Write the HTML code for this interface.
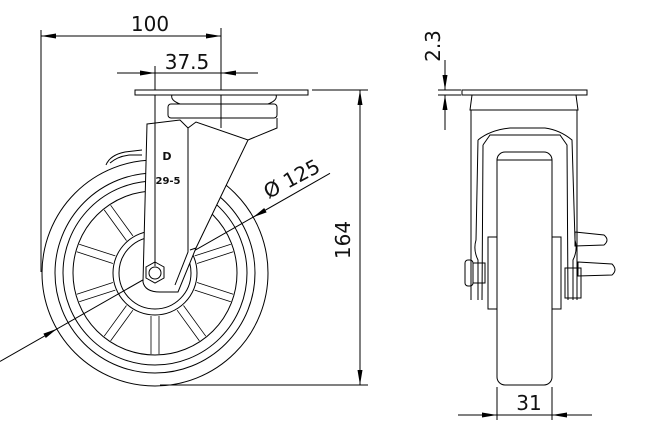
<!DOCTYPE html>
<html><head><style>
html,body{margin:0;padding:0;background:#fff;}
svg{display:block;}
text{font-family:"DejaVu Sans","Liberation Sans",sans-serif;fill:#111;}
</style></head><body>
<svg width="647" height="444" viewBox="0 0 647 444" xmlns="http://www.w3.org/2000/svg">
<g stroke="#000" fill="none" stroke-width="1">
<!-- 100 dim -->
<line x1="41" y1="30" x2="41" y2="272"/>
<line x1="221" y1="28" x2="221" y2="128"/>
<line x1="41" y1="36" x2="221" y2="36"/>
<!-- 37.5 -->
<line x1="155" y1="66" x2="155" y2="272"/>
<line x1="117" y1="73" x2="258" y2="73"/>
<!-- 164 -->
<line x1="312" y1="90" x2="368" y2="90"/>
<line x1="160" y1="385" x2="368" y2="385"/>
<line x1="360" y1="90" x2="360" y2="385"/>
<!-- diameter leader -->
<line x1="0" y1="361.4" x2="330" y2="173.3"/>
<!-- left wheel -->
<circle cx="155" cy="273" r="113"/>
<circle cx="155" cy="273" r="100"/>
<circle cx="155" cy="273" r="92"/>
<circle cx="155" cy="273" r="82"/>
<circle cx="155" cy="273" r="42"/>
<circle cx="155" cy="273" r="36"/>
<g stroke-width="0.8">
<path d="M194.7,290.1L230.8,301.8M197.1,282.5L233.2,294.2
M177.1,310.2L199.4,340.9M183.5,305.5L205.8,336.2
M151,316L151,354M159,316L159,354
M126.5,305.5L104.2,336.2M132.9,310.2L110.6,340.9
M112.9,282.5L76.8,294.2M115.3,290.1L79.2,301.8
M115.3,255.9L79.2,244.2M112.9,263.5L76.8,251.8
M132.9,235.9L110.6,205.2M126.5,240.6L104.2,209.9
M183.5,240.6L205.8,209.9M177.1,235.9L199.4,205.2
M197.1,263.5L233.2,251.8M194.7,255.9L230.8,244.2"/>
</g>
<!-- fork -->
<path d="M147,124 L180,120 L188,128 L196,122 L248,140 L277,128 L277,118 L277,128 L248,140 L196,248 L178,292 L160,292 Q145,292 143,282 Z" fill="#fff"/>
<path d="M188,128 L188,252 L175,285"/>
<path d="M190,250 L196,248"/>
<polygon points="155,262 164,267 164,278 155,283 146,278 146,267" fill="#fff"/>
<circle cx="155" cy="273" r="6"/>
<line x1="155" y1="120" x2="155" y2="266"/>
<!-- top plate & mount -->
<rect x="135" y="90" width="173" height="5" fill="#fff"/>
<path d="M172,95 Q170,100 180,104 L268,104 Q278,100 276,95"/>
<rect x="168" y="104" width="109" height="14" rx="3" fill="#fff"/>
<line x1="221" y1="95" x2="221" y2="124"/>
<!-- brake left -->
<path d="M106,165 Q110,155 125,152 L142,150 M110,163 Q118,156 130,155 L142,155"/>
<!-- right view -->
<rect x="462" y="90" width="125" height="5"/>
<path d="M472,95 L576,95 L578,110 L470,110 Z"/>
<path d="M471,110 L471,300 M577,110 L577,300"/>
<path d="M478,140 Q490,130 510,128 L545,128 Q560,130 572,140 L575,240 Q578,250 573,260 L573,300 M478,140 L476,240 Q473,250 478,260 L478,300"/>
<path d="M483,145 L490,135 L560,135 L567,145 L568,300 M483,145 L482,300"/>
<rect x="497" y="152" width="55" height="233" rx="8" fill="#fff"/>
<line x1="497" y1="160" x2="552" y2="160"/>
<rect x="488" y="237" width="9" height="72"/>
<rect x="552" y="237" width="9" height="72"/>
<rect x="465" y="260" width="8" height="26" rx="3"/>
<rect x="473" y="263" width="12" height="20"/>
<path d="M575,232 L604,235 Q610,240 604,245 L575,246 Z"/>
<path d="M578,262 L612,264 Q618,270 612,275 L578,276 Z"/>
<rect x="565" y="268" width="16" height="30"/>
<!-- 31 dim -->
<line x1="497" y1="387" x2="497" y2="420"/>
<line x1="552" y1="387" x2="552" y2="420"/>
<line x1="458" y1="415" x2="592" y2="415"/>
<!-- 2.3 dim -->
<line x1="438" y1="90" x2="461" y2="90"/>
<line x1="438" y1="95" x2="461" y2="95"/>
<line x1="445" y1="60" x2="445" y2="90"/>
<line x1="445" y1="95" x2="445" y2="130"/>
</g>
<g fill="#000">
<polygon points="41,36 56,33.5 56,38.5"/>
<polygon points="221,36 206,33.5 206,38.5"/>
<polygon points="155,73 140,70.5 140,75.5"/>
<polygon points="221,73 236,70.5 236,75.5"/>
<polygon points="360,90 357.5,105 362.5,105"/>
<polygon points="360,385 357.5,370 362.5,370"/>
<polygon points="56.8,328.9 43.4,333.6 45.8,338"/>
<polygon points="253.2,217.1 264.2,208 266.6,212.4"/>
<polygon points="497,415 482,412.5 482,417.5"/>
<polygon points="552,415 567,412.5 567,417.5"/>
<polygon points="445,90 442.5,75 447.5,75"/>
<polygon points="445,95 442.5,110 447.5,110"/>
</g>
<text x="150" y="31" font-size="20" text-anchor="middle">100</text>
<text x="187" y="69" font-size="20" text-anchor="middle">37.5</text>
<text x="350" y="240" font-size="20" text-anchor="middle" transform="rotate(-90 350 240)">164</text>
<text x="295" y="185" font-size="20" text-anchor="middle" transform="rotate(-28 295 185)">Ø 125</text>
<text x="529" y="410" font-size="20" text-anchor="middle">31</text>
<text x="440" y="46" font-size="20" text-anchor="middle" transform="rotate(-90 440 46)">2.3</text>
<text x="167" y="160" font-size="11" font-weight="bold" text-anchor="middle">D</text>
<text x="168" y="184" font-size="10" font-weight="bold" text-anchor="middle">29-5</text>
</svg>
</body></html>
